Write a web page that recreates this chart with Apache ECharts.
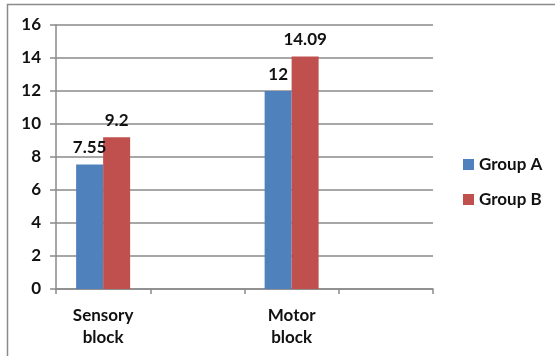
<!DOCTYPE html>
<html>
<head>
<meta charset="utf-8">
<script src="https://cdn.jsdelivr.net/npm/echarts@6/dist/echarts.min.js"></script>
<style>
  html, body { margin: 0; padding: 0; background: #fff; }
  #chart { width: 555px; height: 356px; }
</style>
</head>
<body>
<div id="chart"></div>
<script>
// Block duration by group (empty slots keep the spacing between the two blocks)
const categories = ['Sensory\nblock', '', 'Motor\nblock', ''];
const groupA = [7.55, null, 12, null];
const groupB = [9.2, null, 14.09, null];
const seriesNames = ['Group A', 'Group B'];
const yTicks = { min: 0, max: 16, interval: 2 };

const FONT = 'Lato';
const gridColor = '#8a8a8a';

const chart = echarts.init(document.getElementById('chart'), null, { renderer: 'canvas' });

const labelStyle = {
  show: true,
  position: 'top',
  distance: 8,
  fontFamily: FONT,
  fontWeight: 'bold',
  fontSize: 17,
  color: '#111'
};

chart.setOption({
  animation: false,
  backgroundColor: '#fff',
  textStyle: { fontFamily: FONT },
  graphic: [{
    type: 'rect',
    shape: { x: 7.5, y: 4.5, width: 700, height: 500 },
    style: { fill: 'none', stroke: '#8a8a8a', lineWidth: 1.5 },
    silent: true
  }],
  grid: { left: 56, right: 122, top: 25, bottom: 67 },
  legend: {
    orient: 'vertical',
    left: 458,
    top: 151,
    itemWidth: 11,
    itemHeight: 11,
    itemGap: 18,
    icon: 'rect',
    textStyle: { fontFamily: FONT, fontWeight: 'bold', fontSize: 17, color: '#111' },
    data: seriesNames
  },
  xAxis: {
    type: 'category',
    data: categories,
    boundaryGap: true,
    axisLine: { lineStyle: { color: gridColor, width: 1.5 } },
    axisTick: { show: true, length: 5, interval: 0, lineStyle: { color: gridColor, width: 1.5 } },
    axisLabel: {
      interval: 0,
      margin: 16,
      fontFamily: FONT,
      fontWeight: 'bold',
      fontSize: 17,
      lineHeight: 22,
      color: '#111'
    }
  },
  yAxis: {
    type: 'value',
    min: yTicks.min,
    max: yTicks.max,
    interval: yTicks.interval,
    axisLine: { show: true, lineStyle: { color: gridColor, width: 1.5 } },
    axisTick: { show: true, length: 6, lineStyle: { color: gridColor, width: 1.5 } },
    splitLine: { lineStyle: { color: gridColor, width: 1.5 } },
    axisLabel: {
      margin: 15,
      fontFamily: FONT,
      fontWeight: 'bold',
      fontSize: 17,
      color: '#111'
    }
  },
  series: [
    {
      name: seriesNames[0],
      type: 'bar',
      data: groupA,
      barWidth: 27,
      barGap: '0%',
      itemStyle: { color: '#4F81BD' },
      label: labelStyle
    },
    {
      name: seriesNames[1],
      type: 'bar',
      data: groupB,
      barWidth: 27,
      barGap: '0%',
      itemStyle: { color: '#C0504D' },
      label: labelStyle
    }
  ]
});
</script>
</body>
</html>
